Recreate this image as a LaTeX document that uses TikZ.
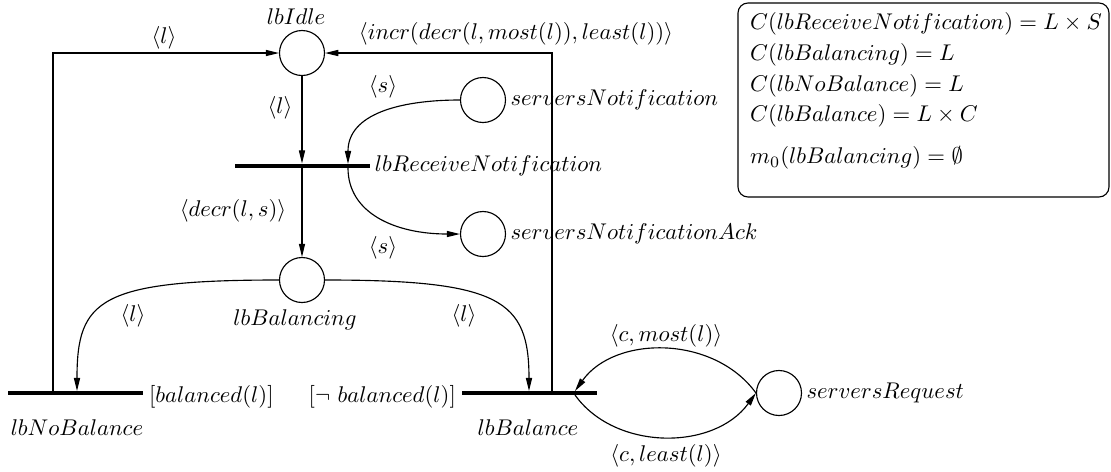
\documentclass[tikz,border=0pt]{standalone}
\usepackage{amsmath}
\usetikzlibrary{arrows.meta,positioning}

\tikzset{
  placenode/.style={circle,draw,line width=0.5pt,minimum size=19.8pt,inner sep=0pt},
  transbar/.style={rectangle,fill=black,minimum width=59.4pt,minimum height=1.75pt,inner sep=0pt},
  flow/.style={line width=0.5pt,-{Triangle[length=5.8pt,width=2.7pt]}},
  link/.style={line width=0.5pt},
  lbl/.style={inner sep=0.75pt},
}

\begin{document}
\begin{tikzpicture}[x=0.44pt,y=0.44pt,yscale=-1,xscale=1]
\useasboundingbox (0,0) rectangle (1111,471);

%Places
\node[placenode] (lbIdle) at (302,53) {};
\node[placenode] (sN) at (483,100) {};
\node[placenode] (sNAck) at (483,234) {};
\node[placenode] (lbBalancing) at (302,280) {};
\node[placenode] (sR) at (779,393) {};

%Transitions
\node[transbar] (lbRecv) at (302.5,166) {};
\node[transbar] (lbNoBal) at (75.5,393) {};
\node[transbar] (lbBal) at (529.5,393) {};

%Arc end points on the bars
\coordinate (recvIn) at (348,164);
\coordinate (recvOut) at (348,168);
\coordinate (noBalIn) at (77,391);
\coordinate (noBalUp) at (53,391);
\coordinate (cornerL) at (53,53);
\coordinate (balIn) at (529,391);
\coordinate (balUp) at (552,391);
\coordinate (cornerR) at (552,53);
\coordinate (balReqIn) at (575,391);
\coordinate (balReqOut) at (575,395);

%Arcs
\draw[flow] (lbIdle) -- (lbIdle |- lbRecv.north);
\draw[flow] (lbRecv.south -| lbBalancing) -- (lbBalancing);
\draw[flow] (sN.west) .. controls +(-60,0) and +(0,-50) .. (recvIn);
\draw[flow] (recvOut) .. controls +(0,45) and +(-65,0) .. (sNAck.west);
\draw[flow] (lbBalancing.west) .. controls +(-180,0) and +(0,-91) .. (noBalIn);
\draw[flow] (lbBalancing.east) .. controls +(175,0) and +(0,-91) .. (balIn);
\draw[flow] (noBalUp) -- (cornerL) -- (lbIdle);
\draw[flow] (balUp) -- (cornerR) -- (lbIdle);
\draw[flow] (sR.west) .. controls +(-42,-58) and +(40,-56) .. (balReqIn);
\draw[flow] (balReqOut) .. controls +(40,56) and +(-42,58) .. (sR.west);

% Text Node
\node[lbl] (idleName) at (296,17) {$lbIdle$};
\node[lbl] (sNName) [right=1pt of sN] {$serversNotification$};
\node[lbl] (sNAckName) [right=1pt of sNAck] {$serversNotificationAck$};
\node[lbl] (recvName) [right=1pt of lbRecv] {$lbReceiveNotification$};
\node[lbl] (balancingName) at (295,320) {$lbBalancing$};
\node[lbl] (noBalName) at (77,428) {$lbNoBalance$};
\node[lbl] (balName) at (528,428) {$lbBalance$};
\node[lbl] (sRName) [right=1pt of sR] {$serversRequest$};
% Arc labels
\node[lbl] (lblLeftTop) at (164,38) {$\langle l\rangle$};
\node[lbl] (lblIncr) at (516,34) {$\langle incr(decr(l,most(l)),least(l))\rangle$};
\node[lbl] (lblSIn) at (383,87) {$\langle s\rangle$};
\node[lbl] (lblIdleOut) at (280,108) {$\langle l\rangle$};
\node[lbl] (lblDecr) at (233,211) {$\langle decr(l,s)\rangle$};
\node[lbl] (lblSOut) at (383,248) {$\langle s\rangle$};
\node[lbl] (lblNoBal) at (133,316) {$\langle l\rangle$};
\node[lbl] (lblBal) at (464,316) {$\langle l\rangle$};
\node[lbl] (lblMost) at (666,336) {$\langle c,most(l)\rangle$};
\node[lbl] (lblLeast) at (666,456) {$\langle c,least(l)\rangle$};
% Guards
\node[lbl,anchor=west] (guardNoBal) at (147,397) {$[balanced(l)]$};
\node[lbl,anchor=east] (guardBal) at (458,397) {$[\neg\ balanced(l)]$};

% Declarations
\draw[link,rounded corners=4.4pt] (738,3) rectangle (1109,197);
\node[lbl,anchor=north west,align=left] (decls) at (748,10)
  {$C(lbReceiveNotification) = L \times S$\\[1.6pt]
   $C(lbBalancing) = L$\\[1.6pt]
   $C(lbNoBalance) = L$\\[1.6pt]
   $C(lbBalance) = L \times C$\\[6.4pt]
   $m_0(lbBalancing) = \emptyset$};

\end{tikzpicture}
\end{document}
